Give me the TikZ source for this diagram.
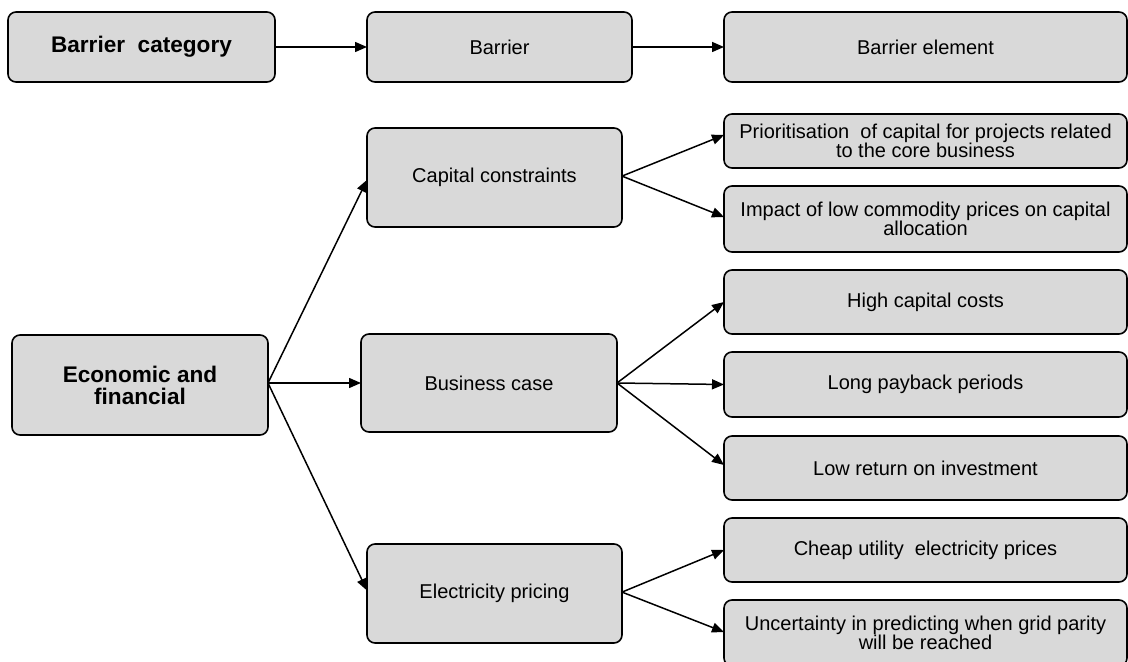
\documentclass[tikz,border=0pt]{standalone}
\usepackage{fontspec}
\setmainfont{Liberation Sans}
\usetikzlibrary{arrows.meta}
\definecolor{boxgray}{HTML}{D9D9D9}
\tikzset{
  box/.style={draw=black, fill=boxgray, rounded corners=4pt, line width=0.8pt,
    align=center, inner sep=0pt, outer sep=0pt,
    font=\fontsize{10}{9.6}\selectfont},
  headbox/.style={box, font=\fontsize{11.3}{11}\selectfont\bfseries},
  link/.style={line width=0.75pt, -{Triangle[length=6pt,width=5pt]}},
}
\begin{document}
\begin{tikzpicture}[x=0.5pt, y=-0.5pt]
\useasboundingbox (0,0) rectangle (1128,662);

% header row
\node[headbox, minimum width=133.5pt, minimum height=35pt] (cat)  at (141.5,47) {Barrier\ \ category};
\node[box, minimum width=132.5pt, minimum height=35pt] (bar)  at (499.5,47) {Barrier};
\node[box, minimum width=201.5pt, minimum height=35pt] (elem) at (925.5,47) {Barrier element};

% category
\node[headbox, minimum width=128pt, minimum height=50pt] (econ) at (140,385) {Economic and\\financial};

% barriers
\node[box, minimum width=127.5pt, minimum height=49.5pt] (cap)  at (494.5,177.5) {Capital constraints};
\node[box, minimum width=128pt,   minimum height=49pt]   (bus)  at (489,383) {Business case};
\node[box, minimum width=127.5pt, minimum height=49.5pt] (elec) at (494.5,593.5) {Electricity pricing};

% barrier elements
\node[box, minimum width=201.5pt, minimum height=27pt] (prio)  at (925.5,141) {Prioritisation\ \ of capital for projects related\\to the core business};
\node[box, minimum width=201.5pt, minimum height=33pt] (imp)   at (925.5,219) {Impact of low commodity prices on capital\\allocation};
\node[box, minimum width=201.5pt, minimum height=32pt] (high)  at (925.5,302) {High capital costs};
\node[box, minimum width=201.5pt, minimum height=32.5pt] (long) at (925.5,384.5) {Long payback periods};
\node[box, minimum width=201.5pt, minimum height=32pt] (low)   at (925.5,468) {Low return on investment};
\node[box, minimum width=201.5pt, minimum height=32pt] (cheap) at (925.5,550) {Cheap utility\ \ electricity prices};
\node[box, minimum width=201.5pt, minimum height=33pt] (unc)   at (925.5,633) {Uncertainty in predicting when grid parity\\will be reached};

% connectors
\draw[link] (cat) -- (bar);
\draw[link] (bar) -- (elem);

\coordinate (econout) at ([yshift=1pt]econ.east);
\draw[link] (econout) -- ([yshift=-1.2pt]cap.west);
\draw[link] (econout) -- (bus.west);
\draw[link] (econout) -- ([yshift=1.5pt]elec.west);

\coordinate (capout) at ([yshift=0.7pt]cap.east);
\draw[link] (capout) -- ([yshift=3pt]prio.west);
\draw[link] (capout) -- ([yshift=1pt]imp.west);

\draw[link] (bus.east) -- (high.west);
\draw[link] (bus.east) -- (long.west);
\draw[link] (bus.east) -- ([yshift=1.5pt]low.west);

\coordinate (elecout) at ([yshift=0.7pt]elec.east);
\draw[link] (elecout) -- (cheap.west);
\draw[link] (elecout) -- ([yshift=0.5pt]unc.west);
\end{tikzpicture}
\end{document}
